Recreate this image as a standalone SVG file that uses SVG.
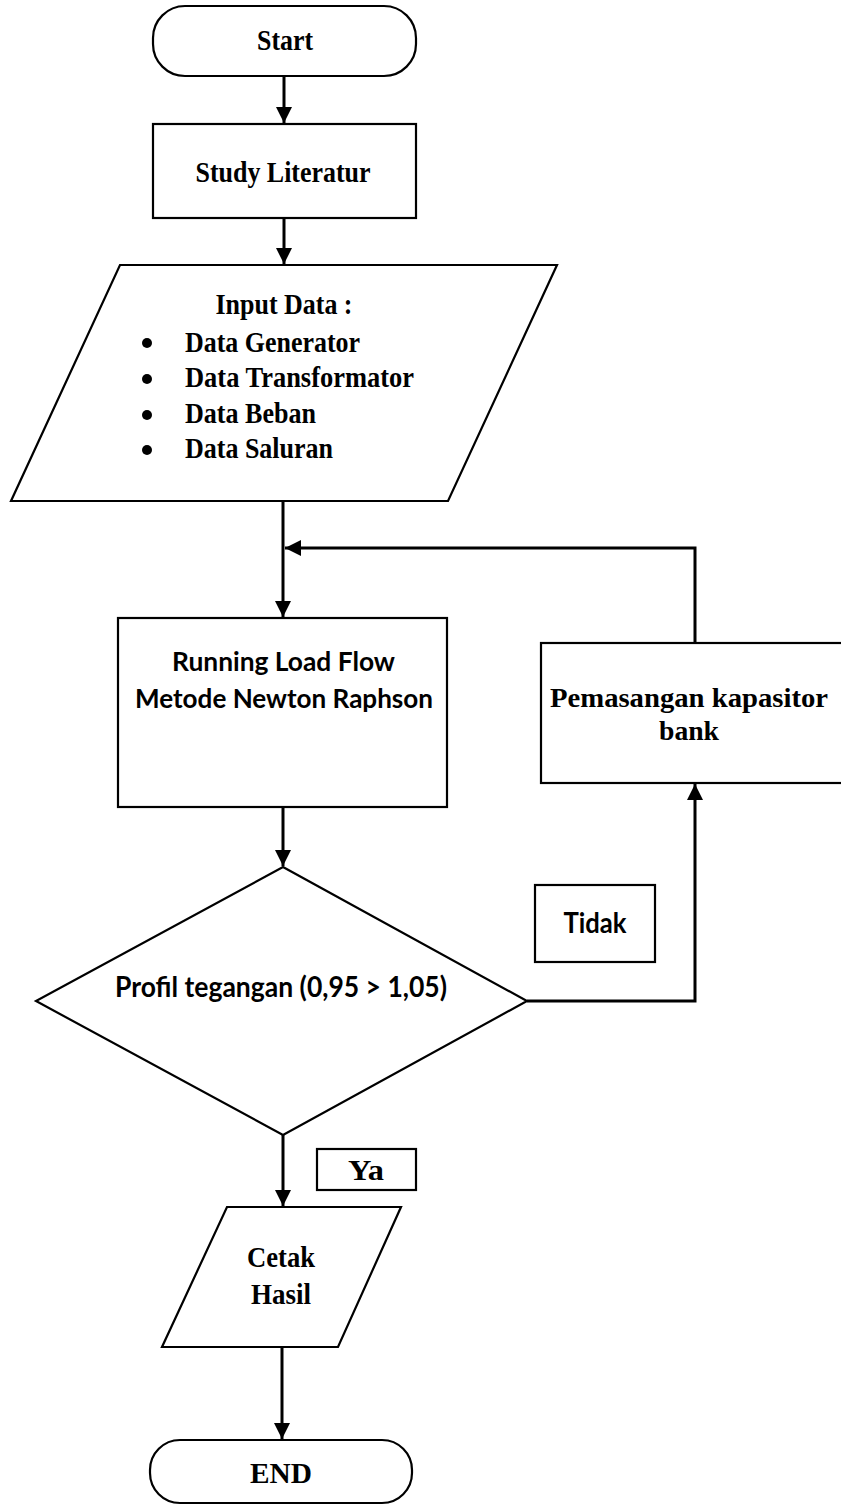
<svg xmlns="http://www.w3.org/2000/svg" width="841" height="1506" viewBox="0 0 841 1506">
<defs>
<marker id="arr" markerUnits="userSpaceOnUse" markerWidth="16" markerHeight="18" refX="16" refY="8" orient="auto">
<path d="M0,0 L16,8 L0,16 Z" fill="#000"/>
</marker>
<style>
.shape{fill:#fff;stroke:#000;stroke-width:2.2}
.conn{fill:none;stroke:#000;stroke-width:3}
.serif{font-family:"Liberation Serif","Times New Roman",serif;font-weight:bold;fill:#000}
.sans{font-family:Lato,"Noto Sans",sans-serif;font-weight:bold;fill:#000}
</style>
</defs>
<rect width="841" height="1506" fill="#fff"/>
<g id="connectors">
<line class="conn" x1="284" y1="77" x2="284" y2="123" marker-end="url(#arr)"/>
<line class="conn" x1="284" y1="219" x2="284" y2="264" marker-end="url(#arr)"/>
<line class="conn" x1="283" y1="502" x2="283" y2="617" marker-end="url(#arr)"/>
<polyline class="conn" points="695,643 695,548 285,548" marker-end="url(#arr)"/>
<line class="conn" x1="283" y1="808" x2="283" y2="866" marker-end="url(#arr)"/>
<polyline class="conn" points="527,1001 695,1001 695,784" marker-end="url(#arr)"/>
<line class="conn" x1="283" y1="1135" x2="283" y2="1206" marker-end="url(#arr)"/>
<line class="conn" x1="282" y1="1348" x2="282" y2="1439" marker-end="url(#arr)"/>
</g>
<g id="start">
<rect class="shape" x="153" y="6" width="263" height="70" rx="32" ry="32"/>
<text class="serif" x="285" y="50" font-size="30" text-anchor="middle" textLength="56" lengthAdjust="spacingAndGlyphs">Start</text>
</g>
<g id="study">
<rect class="shape" x="153" y="124" width="263" height="94"/>
<text class="serif" x="283" y="182" font-size="30" text-anchor="middle" textLength="175" lengthAdjust="spacingAndGlyphs">Study Literatur</text>
</g>
<g id="input">
<polygon class="shape" points="120,265 557,265 448,501 11,501"/>
<text class="serif" x="284" y="314" font-size="30" text-anchor="middle" textLength="137" lengthAdjust="spacingAndGlyphs">Input Data :</text>
<circle cx="147" cy="343" r="5"/>
<circle cx="147" cy="379" r="5"/>
<circle cx="147" cy="415" r="5"/>
<circle cx="147" cy="450" r="5"/>
<text class="serif" x="185" y="352" font-size="30" textLength="175" lengthAdjust="spacingAndGlyphs">Data Generator</text>
<text class="serif" x="185" y="387" font-size="30" textLength="229" lengthAdjust="spacingAndGlyphs">Data Transformator</text>
<text class="serif" x="185" y="423" font-size="30" textLength="131" lengthAdjust="spacingAndGlyphs">Data Beban</text>
<text class="serif" x="185" y="458" font-size="30" textLength="148" lengthAdjust="spacingAndGlyphs">Data Saluran</text>
</g>
<g id="running">
<rect class="shape" x="118" y="618" width="329" height="189"/>
<text class="sans" x="283.5" y="671" font-size="26" text-anchor="middle" textLength="223" lengthAdjust="spacingAndGlyphs">Running Load Flow</text>
<text class="sans" x="284" y="708" font-size="26" text-anchor="middle" textLength="298" lengthAdjust="spacingAndGlyphs">Metode Newton Raphson</text>
</g>
<g id="kapasitor">
<rect class="shape" x="541" y="643" width="310" height="140"/>
<text class="serif" x="689" y="707" font-size="28" text-anchor="middle" textLength="278" lengthAdjust="spacingAndGlyphs">Pemasangan kapasitor</text>
<text class="serif" x="689" y="740" font-size="28" text-anchor="middle" textLength="60" lengthAdjust="spacingAndGlyphs">bank</text>
</g>
<g id="decision">
<polygon class="shape" points="283,867 527,1001 283,1135 36,1001"/>
<text class="sans" x="281" y="997" font-size="28" text-anchor="middle" textLength="332" lengthAdjust="spacingAndGlyphs">Profil tegangan (0,95 &gt; 1,05)</text>
</g>
<g id="label-tidak">
<rect class="shape" x="535" y="885" width="120" height="77"/>
<text class="sans" x="595" y="933" font-size="28" text-anchor="middle" textLength="63" lengthAdjust="spacingAndGlyphs">Tidak</text>
</g>
<g id="label-ya">
<rect class="shape" x="317" y="1149" width="99" height="41"/>
<text class="serif" x="366" y="1180" font-size="30" text-anchor="middle" textLength="36" lengthAdjust="spacingAndGlyphs">Ya</text>
</g>
<g id="cetak">
<polygon class="shape" points="227,1207 401,1207 338,1347 162,1347"/>
<text class="serif" x="281" y="1267" font-size="30" text-anchor="middle" textLength="68" lengthAdjust="spacingAndGlyphs">Cetak</text>
<text class="serif" x="281" y="1304" font-size="30" text-anchor="middle" textLength="60" lengthAdjust="spacingAndGlyphs">Hasil</text>
</g>
<g id="end">
<rect class="shape" x="150" y="1440" width="262" height="63" rx="30" ry="30"/>
<text class="serif" x="281" y="1483" font-size="30" text-anchor="middle" textLength="62" lengthAdjust="spacingAndGlyphs">END</text>
</g>
</svg>
